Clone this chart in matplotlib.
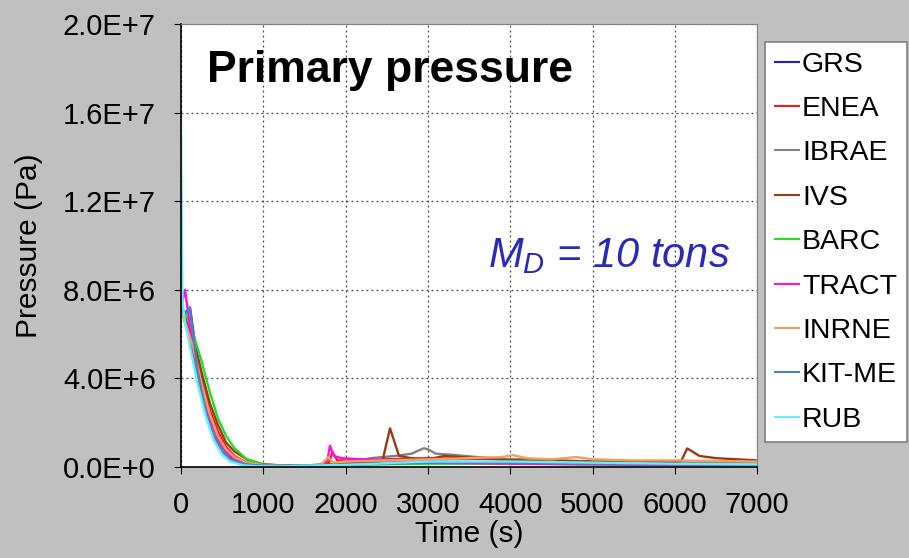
import matplotlib.pyplot as plt
import numpy as np

plt.rcParams['font.family'] = ['Liberation Sans', 'DejaVu Sans']
plt.rcParams['mathtext.fontset'] = 'custom'
plt.rcParams['mathtext.it'] = 'Liberation Sans:italic'
plt.rcParams['mathtext.rm'] = 'Liberation Sans'

# Data (time in s, pressure in Pa)
grs_t = [0, 60, 110, 200, 300, 400, 500, 600, 750, 900, 1200, 1800, 2500, 3000, 4000, 5000, 6000, 7000]
grs_p = [7.0e6, 7.0e6, 7.2e6, 4.8e6, 3.0e6, 1.7e6, 0.9e6, 0.45e6, 0.15e6, 0.08e6, 0.05e6, 0.1e6, 0.2e6, 0.25e6, 0.2e6, 0.15e6, 0.12e6, 0.1e6]

enea_t = [0, 60, 150, 250, 350, 450, 550, 650, 800, 1000, 1300, 1700, 1800, 1840, 1900, 2000, 2500, 3000, 4000, 5000, 6000, 7000]
enea_p = [7.0e6, 6.7e6, 5.6e6, 4.0e6, 2.6e6, 1.6e6, 0.9e6, 0.5e6, 0.2e6, 0.08e6, 0.05e6, 0.1e6, 0.2e6, 0.68e6, 0.3e6, 0.3e6, 0.35e6, 0.4e6, 0.35e6, 0.25e6, 0.2e6, 0.15e6]

ibrae_t = [0, 50, 150, 250, 350, 450, 550, 700, 900, 1200, 1600, 2000, 2300, 2600, 2800, 2950, 3000, 3100, 3300, 3600, 4000, 5000, 6000, 7000]
ibrae_p = [7.2e6, 6.8e6, 5.0e6, 3.4e6, 2.1e6, 1.2e6, 0.6e6, 0.3e6, 0.15e6, 0.08e6, 0.08e6, 0.15e6, 0.4e6, 0.5e6, 0.6e6, 0.85e6, 0.8e6, 0.6e6, 0.55e6, 0.45e6, 0.35e6, 0.25e6, 0.2e6, 0.15e6]

ivs_t = [0, 60, 150, 250, 350, 450, 550, 650, 800, 1000, 1300, 1800, 2200, 2450, 2540, 2650, 2800, 3000, 3200, 3600, 4000, 5000, 6000, 6080, 6150, 6300, 6500, 7000]
ivs_p = [7.0e6, 6.8e6, 5.9e6, 4.3e6, 2.9e6, 1.9e6, 1.1e6, 0.7e6, 0.35e6, 0.12e6, 0.05e6, 0.1e6, 0.2e6, 0.3e6, 1.75e6, 0.5e6, 0.4e6, 0.35e6, 0.5e6, 0.4e6, 0.3e6, 0.25e6, 0.2e6, 0.3e6, 0.84e6, 0.5e6, 0.4e6, 0.3e6]

barc_t = [0, 60, 150, 250, 350, 450, 550, 650, 800, 1000, 1300, 2000, 3000, 4000, 5000, 6000, 7000]
barc_p = [7.0e6, 6.9e6, 6.0e6, 4.8e6, 3.4e6, 2.2e6, 1.4e6, 0.85e6, 0.35e6, 0.1e6, 0.05e6, 0.1e6, 0.15e6, 0.15e6, 0.12e6, 0.1e6, 0.1e6]

tract_t = [0, 50, 150, 250, 350, 450, 550, 650, 800, 1000, 1300, 1700, 1780, 1810, 1860, 1950, 2200, 2600, 3000, 4000, 5000, 6000, 7000]
tract_p = [7.2e6, 8.0e6, 5.3e6, 3.7e6, 2.3e6, 1.3e6, 0.7e6, 0.35e6, 0.12e6, 0.06e6, 0.05e6, 0.1e6, 0.3e6, 0.96e6, 0.5e6, 0.4e6, 0.35e6, 0.3e6, 0.2e6, 0.15e6, 0.12e6, 0.1e6, 0.08e6]

inrne_t = [0, 60, 150, 250, 350, 450, 550, 650, 800, 1000, 1300, 1700, 1790, 1850, 2000, 2500, 3000, 3500, 3900, 4030, 4200, 4500, 4800, 5000, 5500, 6000, 7000]
inrne_p = [7.0e6, 6.4e6, 5.4e6, 3.8e6, 2.4e6, 1.4e6, 0.8e6, 0.45e6, 0.2e6, 0.08e6, 0.05e6, 0.1e6, 0.45e6, 0.2e6, 0.25e6, 0.3e6, 0.35e6, 0.4e6, 0.45e6, 0.54e6, 0.4e6, 0.35e6, 0.45e6, 0.35e6, 0.3e6, 0.3e6, 0.25e6]

kit_t = [0, 40, 70, 110, 200, 300, 400, 500, 600, 750, 900, 1200, 2000, 3000, 4000, 5000, 6000, 7000]
kit_p = [7.5e6, 6.9e6, 7.0e6, 7.2e6, 4.4e6, 2.5e6, 1.4e6, 0.7e6, 0.35e6, 0.15e6, 0.08e6, 0.05e6, 0.1e6, 0.2e6, 0.2e6, 0.15e6, 0.12e6, 0.1e6]

rub_t = [0, 20, 50, 100, 200, 300, 400, 500, 600, 750, 900, 1200, 2000, 3000, 4000, 5000, 6000, 7000]
rub_p = [1.55e7, 7.5e6, 6.5e6, 5.6e6, 3.8e6, 2.3e6, 1.2e6, 0.55e6, 0.25e6, 0.08e6, 0.04e6, 0.03e6, 0.1e6, 0.25e6, 0.25e6, 0.2e6, 0.15e6, 0.12e6]

series = [
    ('GRS', grs_t, grs_p, '#1f1fd0'),
    ('ENEA', enea_t, enea_p, '#ee1c1c'),
    ('IBRAE', ibrae_t, ibrae_p, '#808080'),
    ('IVS', ivs_t, ivs_p, '#9a3a14'),
    ('BARC', barc_t, barc_p, '#22dd22'),
    ('TRACT', tract_t, tract_p, '#ff10e0'),
    ('INRNE', inrne_t, inrne_p, '#f0a060'),
    ('KIT-ME', kit_t, kit_p, '#4f81bd'),
    ('RUB', rub_t, rub_p, '#66eeff'),
]

fig = plt.figure(figsize=(9.09, 5.58), dpi=100, facecolor='#c0c0c0')
ax = fig.add_axes([0.199, 0.163, 0.634, 0.794])
ax.set_facecolor('white')

for name, t, p, c in series:
    ax.plot(t, p, color=c, lw=1.7, label=name)

ax.set_xlim(0, 7000)
ax.set_ylim(0, 2.0e7)
ax.set_xticks(np.arange(0, 7001, 1000))
ax.set_yticks(np.arange(0, 2.01e7, 4e6))
ax.set_yticklabels(['0.0E+0', '4.0E+6', '8.0E+6', '1.2E+7', '1.6E+7', '2.0E+7'])
ax.tick_params(labelsize=21, length=5, direction='out', pad=13)
ax.tick_params(axis='x', pad=12)
ax.grid(True, color='#444444', linestyle=(0, (1.5, 2.5)), lw=0.9)

for s in ['top', 'right']:
    ax.spines[s].set_color('#808080')
for s in ['left', 'bottom']:
    ax.spines[s].set_linewidth(1.2)

ax.set_xlabel('Time (s)', fontsize=21.5, labelpad=1)
ax.set_ylabel('Pressure (Pa)', fontsize=21.5, labelpad=14)

ax.text(0.045, 0.869, 'Primary pressure', transform=ax.transAxes,
        fontsize=32, fontweight='bold', va='baseline', ha='left')
ax.text(0.533, 0.4515, r'$M_D$ = 10 tons', transform=ax.transAxes,
        fontsize=30, style='italic', color='#2a2ab8', va='baseline', ha='left')

leg = fig.legend(loc='upper left', bbox_to_anchor=(0.8416, 0.9247), fontsize=20.5,
                 handlelength=0.86, handletextpad=0.1, labelspacing=0.645,
                 borderpad=0.34, borderaxespad=0, fancybox=False, framealpha=1,
                 edgecolor='#808080')
leg.get_frame().set_linewidth(1.2)
for line in leg.get_lines():
    line.set_linewidth(1.5)

fig.savefig('out.png', dpi=100, facecolor=fig.get_facecolor())
